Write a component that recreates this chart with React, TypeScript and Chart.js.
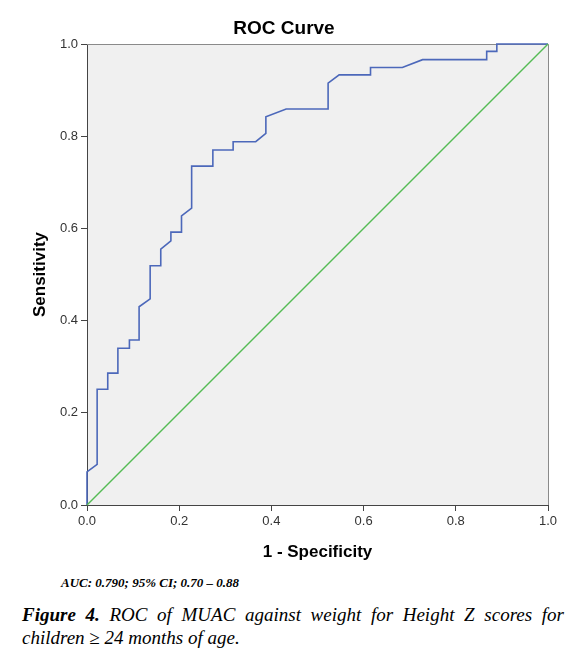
import React, { useEffect, useRef } from 'react';
import { Chart, registerables } from 'chart.js';

Chart.register(...registerables);

const chartTitle = 'ROC Curve';
const xAxisTitle = '1 - Specificity';
const yAxisTitle = 'Sensitivity';
const tickValues = [0, 0.2, 0.4, 0.6, 0.8, 1.0];
const tickLabels = ['0.0', '0.2', '0.4', '0.6', '0.8', '1.0'];

// ROC curve: 1 - specificity (x) and sensitivity (y)
const rocFpr = [
  0, 0, 0.022, 0.022, 0.045, 0.045, 0.067, 0.067, 0.092, 0.092, 0.113, 0.113,
  0.137, 0.137, 0.16, 0.16, 0.182, 0.182, 0.205, 0.205, 0.227, 0.227, 0.273, 0.273,
  0.317, 0.317, 0.366, 0.388, 0.388, 0.432, 0.523, 0.523, 0.547, 0.615, 0.615,
  0.684, 0.728, 0.867, 0.867, 0.889, 0.889, 1.0,
];
const rocTpr = [
  0, 0.072, 0.088, 0.251, 0.251, 0.286, 0.286, 0.34, 0.34, 0.358, 0.358, 0.43,
  0.447, 0.519, 0.519, 0.555, 0.573, 0.592, 0.592, 0.627, 0.644, 0.735, 0.735, 0.77,
  0.77, 0.788, 0.788, 0.806, 0.842, 0.859, 0.859, 0.915, 0.933, 0.933, 0.949,
  0.949, 0.966, 0.966, 0.984, 0.984, 1.0, 1.0,
];

// Reference (chance) line
const refFpr = [0, 1];
const refTpr = [0, 1];

const aucText = 'AUC: 0.790; 95% CI; 0.70 \u2013 0.88';
const captionLabel = 'Figure 4.';
const captionText = 'ROC of MUAC against weight for Height Z scores for children \u2265 24 months of age.';

const plotFrame = {
  id: 'plotFrame',
  beforeDraw(chart: any) {
    const { ctx, chartArea } = chart;
    ctx.save();
    ctx.fillStyle = '#F0F0F0';
    ctx.fillRect(chartArea.left, chartArea.top, chartArea.right - chartArea.left, chartArea.bottom - chartArea.top);
    ctx.restore();
  },
  beforeDatasetsDraw(chart: any) {
    const { ctx, chartArea } = chart;
    ctx.save();
    ctx.strokeStyle = '#8a8a8a';
    ctx.lineWidth = 1;
    ctx.beginPath();
    ctx.moveTo(chartArea.left, chartArea.top + 0.5);
    ctx.lineTo(chartArea.right + 0.5, chartArea.top + 0.5);
    ctx.lineTo(chartArea.right + 0.5, chartArea.bottom);
    ctx.stroke();
    ctx.restore();
  },
};

const tickFont = { family: 'Liberation Sans, Arial, sans-serif', size: 13 };
const axisTitleFont = { family: 'Liberation Sans, Arial, sans-serif', size: 17, weight: 'bold' as const };

function RocChart() {
  const canvasRef = useRef<HTMLCanvasElement | null>(null);

  useEffect(() => {
    if (!canvasRef.current) return;
    const chart = new Chart(canvasRef.current, {
      type: 'scatter',
      data: {
        datasets: [
          {
            label: 'Reference',
            data: refFpr.map((x, i) => ({ x, y: refTpr[i] })),
            showLine: true,
            borderColor: '#55BB55',
            borderWidth: 1.5,
            pointRadius: 0,
            tension: 0,
            clip: 3,
          },
          {
            label: 'ROC',
            data: rocFpr.map((x, i) => ({ x, y: rocTpr[i] })),
            showLine: true,
            borderColor: '#4C68BA',
            borderWidth: 1.6,
            pointRadius: 0,
            tension: 0,
            clip: 3,
          },
        ],
      },
      options: {
        animation: false,
        responsive: false,
        devicePixelRatio: 1,
        layout: { padding: { left: 0, right: 38, top: 44, bottom: 0 } },
        plugins: {
          legend: { display: false },
          tooltip: { enabled: false },
          title: { display: false },
        },
        scales: {
          x: {
            type: 'linear',
            min: 0,
            max: 1,
            afterFit: (scale: any) => { scale.height = 65; },
            afterBuildTicks: (scale: any) => { scale.ticks = tickValues.map((v) => ({ value: v })); },
            ticks: {
              callback: (_v: any, i: number) => tickLabels[i],
              font: tickFont,
              color: '#333',
              padding: 3,
              maxRotation: 0,
            },
            grid: { display: true, drawOnChartArea: false, drawTicks: true, tickLength: 6, color: '#444' },
            border: { display: true, color: '#444', width: 1 },
            title: { display: true, text: xAxisTitle, font: axisTitleFont, color: '#000', padding: { top: 0, bottom: 7 } },
          },
          y: {
            type: 'linear',
            min: 0,
            max: 1,
            afterFit: (scale: any) => { scale.width = 87; },
            afterBuildTicks: (scale: any) => { scale.ticks = tickValues.map((v) => ({ value: v })); },
            ticks: {
              callback: (_v: any, i: number) => tickLabels[i],
              font: tickFont,
              color: '#333',
              padding: 3,
            },
            grid: { display: true, drawOnChartArea: false, drawTicks: true, tickLength: 6, color: '#444' },
            border: { display: true, color: '#444', width: 1 },
            title: { display: true, text: yAxisTitle, font: axisTitleFont, color: '#000', padding: { top: 30, bottom: 0 } },
          },
        },
      },
      plugins: [plotFrame],
    });
    return () => chart.destroy();
  }, []);

  return <canvas ref={canvasRef} width={586} height={570} style={{ position: 'absolute', left: 0, top: 0, width: 586, height: 570 }} />;
}

export default function App() {
  return (
    <div style={{ position: 'absolute', left: 0, top: 0, width: 586, height: 659, background: '#fff', overflow: 'hidden' }}>
      <RocChart />
      <div
        style={{
          position: 'absolute', left: 0, top: 18, width: 568, textAlign: 'center',
          fontFamily: 'Liberation Sans, Arial, sans-serif', fontSize: 19, lineHeight: '19px', fontWeight: 'bold', color: '#000',
        }}
      >
        {chartTitle}
      </div>
      <div
        style={{
          position: 'absolute', left: 61, top: 575, fontFamily: 'Liberation Serif, Times New Roman, serif',
          fontSize: 13, lineHeight: '15px', fontWeight: 'bold', fontStyle: 'italic', color: '#000', whiteSpace: 'nowrap',
        }}
      >
        {aucText}
      </div>
      <div
        style={{
          position: 'absolute', left: 22, top: 603, width: 542, fontFamily: 'Liberation Serif, Times New Roman, serif',
          fontSize: 19, lineHeight: '23px', fontStyle: 'italic', color: '#000', textAlign: 'justify',
        }}
      >
        <b>{captionLabel}</b> {captionText}
      </div>
    </div>
  );
}
